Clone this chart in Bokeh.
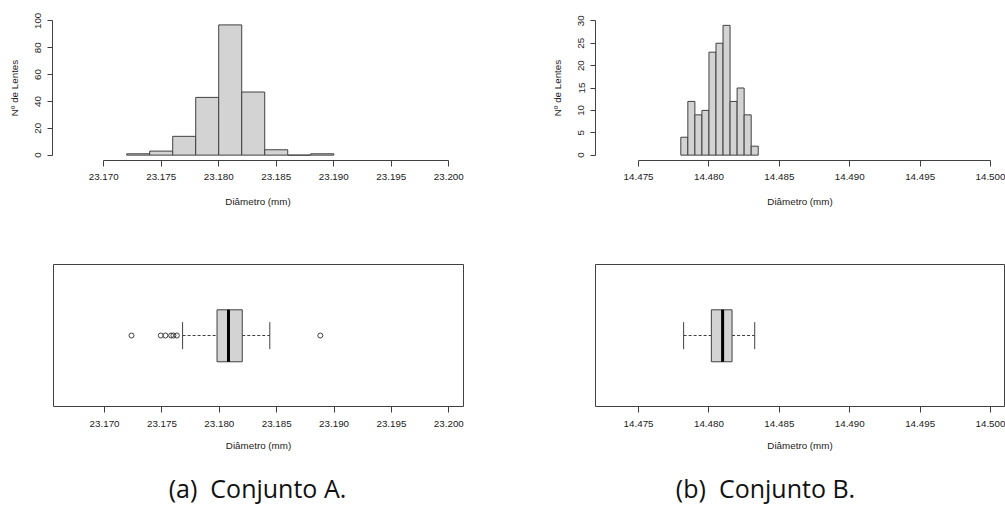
import numpy as np
from bokeh.plotting import figure
from bokeh.layouts import column, row
from bokeh.models import FixedTicker, PrintfTickFormatter, Range1d
from bokeh.core.properties import value
from bokeh.embed import file_html
from bokeh.resources import INLINE

# ---------------- data ----------------
binsA_left = [23.172, 23.174, 23.176, 23.178, 23.180, 23.182, 23.184, 23.186, 23.188]
binA_width = 0.002
countsA = [1, 3, 14, 43, 97, 47, 4, 0, 1]

binsB_left = [14.4780, 14.4785, 14.4790, 14.4795, 14.4800, 14.4805,
              14.4810, 14.4815, 14.4820, 14.4825, 14.4830]
binB_width = 0.0005
countsB = [4, 12, 9, 10, 23, 25, 29, 12, 15, 9, 2]

# boxplot statistics: [whisker low, Q1, median, Q3, whisker high]
statsA = [23.1768, 23.1798, 23.1808, 23.1820, 23.1844]
outliersA = [23.17235, 23.1749, 23.1753, 23.1758, 23.1760, 23.1763, 23.1888]
statsB = [14.4782, 14.48017, 14.48097, 14.48164, 14.48325]
outliersB = []

xticksA = [23.170, 23.175, 23.180, 23.185, 23.190, 23.195, 23.200]
xticksB = [14.475, 14.480, 14.485, 14.490, 14.495, 14.500]
yticksA = [0, 20, 40, 60, 80, 100]
yticksB = [0, 5, 10, 15, 20, 25, 30]

xlabel = "Diâmetro (mm)"
ylabel = "Nº de Lentes"
captions = ["(a)\u00a0 Conjunto A.", "(b)\u00a0 Conjunto B."]

# ---------------- style ----------------
FONT = "Liberation Sans"
FS = "9.8px"
TXT = "#1a1a1a"
LINE = "#404040"
FILL = "#d3d3d3"


def style_xaxis(ax, ticks, standoff_lbl, standoff_axis, show_line=True):
    ax.ticker = FixedTicker(ticks=ticks)
    ax.formatter = PrintfTickFormatter(format="%.3f")
    ax.bounds = (ticks[0], ticks[-1])
    ax.major_tick_out = 6
    ax.major_tick_in = 0
    ax.minor_tick_line_color = None
    ax.major_tick_line_color = LINE
    ax.axis_line_color = LINE if show_line else None
    ax.major_label_text_font = FONT
    ax.major_label_text_font_size = FS
    ax.major_label_text_color = TXT
    ax.major_label_standoff = standoff_lbl
    ax.axis_label = xlabel
    ax.axis_label_text_font = FONT
    ax.axis_label_text_font_size = FS
    ax.axis_label_text_font_style = "normal"
    ax.axis_label_text_color = TXT
    ax.axis_label_standoff = standoff_axis


def hist_fig(lefts, bw, counts, xr, xticks, yr, yticks, w, mbl, mbr):
    p = figure(width=w, height=220, x_range=Range1d(*xr), y_range=Range1d(*yr),
               output_backend="svg", toolbar_location=None,
               min_border_left=mbl, min_border_right=mbr,
               min_border_top=15, min_border_bottom=60)
    p.outline_line_color = None
    p.grid.visible = False
    l = np.array(lefts)
    p.quad(left=l, right=l + bw, bottom=0, top=counts,
           fill_color=FILL, line_color=LINE, line_width=1)
    style_xaxis(p.xaxis[0], xticks, 7, 13)
    ya = p.yaxis[0]
    ya.ticker = FixedTicker(ticks=yticks)
    ya.bounds = (yticks[0], yticks[-1])
    ya.major_tick_out = 5
    ya.major_tick_in = 0
    ya.minor_tick_line_color = None
    ya.major_tick_line_color = LINE
    ya.axis_line_color = LINE
    ya.major_label_orientation = "vertical"
    ya.major_label_text_font = FONT
    ya.major_label_text_font_size = FS
    ya.major_label_text_color = TXT
    ya.major_label_standoff = 6
    ya.axis_label = ylabel
    ya.axis_label_text_font = FONT
    ya.axis_label_text_font_size = FS
    ya.axis_label_text_font_style = "normal"
    ya.axis_label_text_color = TXT
    ya.axis_label_standoff = 13
    return p


def box_fig(stats, outliers, xr, xticks, w, mbl, mbr):
    p = figure(width=w, height=240, x_range=Range1d(*xr), y_range=Range1d(0, 1),
               output_backend="svg", toolbar_location=None,
               min_border_left=mbl, min_border_right=mbr,
               min_border_top=44, min_border_bottom=54)
    p.outline_line_color = LINE
    p.outline_line_width = 1
    p.grid.visible = False
    p.yaxis.visible = False
    wl, q1, med, q3, wh = stats
    p.segment(x0=[wl, q3], y0=[0.5, 0.5], x1=[q1, wh], y1=[0.5, 0.5],
              line_color=LINE, line_width=1, line_dash="3 2")
    p.segment(x0=[wl, wh], y0=[0.404, 0.404], x1=[wl, wh], y1=[0.594, 0.594],
              line_color=LINE, line_width=1)
    p.quad(left=[q1], right=[q3], bottom=[0.315], top=[0.681],
           fill_color=FILL, line_color=LINE, line_width=1)
    p.segment(x0=[med], y0=[0.315], x1=[med], y1=[0.681],
              line_color="black", line_width=3)
    if outliers:
        p.scatter(x=outliers, y=[0.5] * len(outliers), marker="circle", size=5,
                  fill_color=None, line_color=LINE, line_width=1)
    style_xaxis(p.xaxis[0], xticks, 8, 10, show_line=False)
    return p


xrA = (23.16555, 23.20128)
xrB = (14.47194, 14.500995)

hA = hist_fig(binsA_left, binA_width, countsA, xrA, xticksA, (-4, 104), yticksA, 500, 52, 37)
hB = hist_fig(binsB_left, binB_width, countsB, xrB, xticksB, (-1.2, 31.2), yticksB, 505, 95, 1)
bA = box_fig(statsA, outliersA, xrA, xticksA, 500, 53, 37)
bB = box_fig(statsB, outliersB, xrB, xticksB, 505, 95, 1)

cap = figure(width=1005, height=55, x_range=Range1d(0, 1005), y_range=Range1d(0, 55),
             output_backend="svg", toolbar_location=None,
             min_border_left=0, min_border_right=0, min_border_top=0, min_border_bottom=0)
cap.axis.visible = False
cap.grid.visible = False
cap.outline_line_color = None
cap.text(x=[257, 765], y=[28, 28], text=captions, text_font=value("Open Sans"),
         text_font_size="25px", text_color="#111111",
         text_align="center", text_baseline="middle")

layout = column(row(hA, hB), row(bA, bB), cap)

open("out.html", "w").write(file_html(layout, INLINE))
